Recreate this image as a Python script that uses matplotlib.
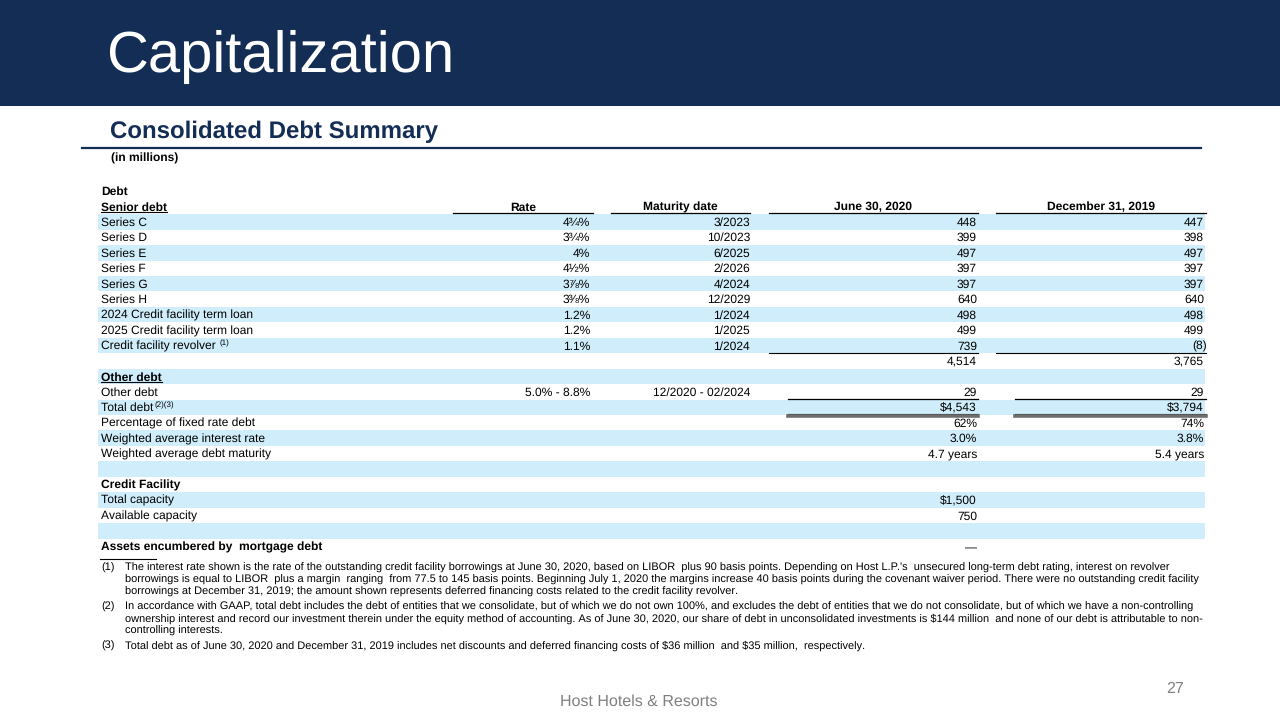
import matplotlib.pyplot as plt
from matplotlib.patches import Rectangle

# --- data ---
senior_labels = ["Series C", "Series D", "Series E", "Series F", "Series G", "Series H",
                 "2024 Credit facility term loan", "2025 Credit facility term loan",
                 "Credit facility revolver"]
senior_rates = ["4¾%", "3¾%", "4%", "4½%", "3⅞%", "3⅜%", "1.2%", "1.2%", "1.1%"]
senior_maturity = ["3/2023", "10/2023", "6/2025", "2/2026", "4/2024", "12/2029",
                   "1/2024", "1/2025", "1/2024"]
senior_jun2020 = [448, 399, 497, 397, 397, 640, 498, 499, 739]
senior_dec2019 = [447, 398, 497, 397, 397, 640, 498, 499, -8]

other_rate = "5.0% - 8.8%"
other_maturity = "12/2020 - 02/2024"
other_jun2020 = 29
other_dec2019 = 29

fixed_pct = ["62%", "74%"]
wa_rate = ["3.0%", "3.8%"]
wa_maturity = ["4.7 years", "5.4 years"]
credit_total = 1500
credit_available = 750

col_headers = ["Rate", "Maturity date", "June 30, 2020", "December 31, 2019"]

footnotes = [
    ("(1)", ["The interest rate shown is the rate of the outstanding credit facility borrowings at June 30, 2020, based on LIBOR  plus 90 basis points. Depending on Host L.P.'s  unsecured long-term debt rating, interest on revolver",
             "borrowings is equal to LIBOR  plus a margin  ranging  from 77.5 to 145 basis points. Beginning July 1, 2020 the margins increase 40 basis points during the covenant waiver period. There were no outstanding credit facility",
             "borrowings at December 31, 2019; the amount shown represents deferred financing costs related to the credit facility revolver."]),
    ("(2)", ["In accordance with GAAP, total debt includes the debt of entities that we consolidate, but of which we do not own 100%, and excludes the debt of entities that we do not consolidate, but of which we have a non-controlling",
             "ownership interest and record our investment therein under the equity method of accounting. As of June 30, 2020, our share of debt in unconsolidated investments is $144 million  and none of our debt is attributable to non-",
             "controlling interests."]),
    ("(3)", ["Total debt as of June 30, 2020 and December 31, 2019 includes net discounts and deferred financing costs of $36 million  and $35 million,  respectively."]),
]

# --- style ---
FONT = ["Liberation Sans", "DejaVu Sans"]
plt.rcParams['font.family'] = FONT
plt.rcParams['text.hinting'] = 'no_hinting'
plt.rcParams['text.hinting_factor'] = 1
NAVY = "#132D54"
SHADE = "#CFEDFA"
FS = 8.6
FN = 7.72


def fmt(v, dollar=False):
    s = f"{abs(v):,}"
    if dollar:
        s = "$" + s
    return f"({s})" if v < 0 else s


fig = plt.figure(figsize=(12.8, 7.2), dpi=100)
ax = fig.add_axes([0, 0, 1, 1])
ax.set_xlim(0, 1280)
ax.set_ylim(720, 0)
ax.axis('off')
renderer = fig.canvas.get_renderer()


def put(x, y, s, **kw):
    kw.setdefault('fontsize', FS)
    kw.setdefault('va', 'baseline')
    kw.setdefault('color', 'black')
    return ax.text(x, y, s, parse_math=False, **kw)


def right_edge(t):
    bb = t.get_window_extent(renderer).transformed(ax.transData.inverted())
    return bb.x1, bb.x0


# header band
ax.add_patch(Rectangle((0, 0), 1280, 106, color=NAVY, lw=0))
put(106, 72, "Capitalization", fontsize=42, color='white')

put(110, 138, "Consolidated Debt Summary", fontsize=17, fontweight='bold', color=NAVY)
ax.plot([82, 1201], [147.5, 147.5], color=NAVY, lw=1.6)
put(111, 162, "(in millions)", fontsize=8.3, fontweight='bold')

# table geometry
y0, pitch = 191, 15.45
x_lab, rate_r, mat_r, jun_r, dec_r = 101, 590, 750, 977, 1204
spans = [(453, 593), (611, 750), (769, 978), (996, 1206)]
sum_spans = [(788, 978), (1015, 1206)]


def ry(i):
    return y0 + i * pitch


def base(i):
    return ry(i) + 4


# row shading
for i in range(2, 24, 2):
    ax.add_patch(Rectangle((98, ry(i) - pitch / 2), 1107, pitch, color=SHADE, lw=0))

put(x_lab, base(0), "Debt", fontweight='bold')
t = put(x_lab, base(1), "Senior debt", fontweight='bold')
x1, x0 = right_edge(t)
ax.plot([x0, x1], [base(1) + 2, base(1) + 2], color='black', lw=0.8)

for (a, b), h in zip(spans, col_headers):
    put((a + b) / 2, base(1), h, fontweight='bold', ha='center')
    ax.plot([a, b], [ry(1) + 7, ry(1) + 7], color='black', lw=0.9)

for k, lab in enumerate(senior_labels):
    i = 2 + k
    t = put(x_lab, base(i), lab)
    if lab == "Credit facility revolver":
        x1, _ = right_edge(t)
        put(x1 + 4, base(i) - 4, "(1)", fontsize=5.5)
    put(rate_r, base(i), senior_rates[k], ha='right')
    put(mat_r, base(i), senior_maturity[k], ha='right')
    put(jun_r, base(i), fmt(senior_jun2020[k]), ha='right')
    dv = senior_dec2019[k]
    put(dec_r + (3 if dv < 0 else 0), base(i), fmt(dv), ha='right')

for a, b in spans[2:]:
    ax.plot([a, b], [ry(10) + 7.3, ry(10) + 7.3], color='black', lw=0.8)

sub_jun = sum(senior_jun2020)
sub_dec = sum(senior_dec2019)
put(jun_r, base(11), fmt(sub_jun), ha='right')
put(dec_r, base(11), fmt(sub_dec), ha='right')

t = put(x_lab, base(12), "Other debt", fontweight='bold')
x1, x0 = right_edge(t)
ax.plot([x0, x1], [base(12) + 2, base(12) + 2], color='black', lw=0.8)

put(x_lab, base(13), "Other debt")
put(rate_r, base(13), other_rate, ha='right')
put(mat_r, base(13), other_maturity, ha='right')
put(jun_r, base(13), fmt(other_jun2020), ha='right')
put(dec_r, base(13), fmt(other_dec2019), ha='right')
for a, b in sum_spans:
    ax.plot([a, b], [ry(13) + 7.5, ry(13) + 7.5], color='black', lw=0.9)

t = put(x_lab, base(14), "Total debt")
x1, _ = right_edge(t)
put(x1 + 1, base(14) - 4, "(2)(3)", fontsize=5.5)
put(jun_r, base(14), fmt(sub_jun + other_jun2020, True), ha='right')
put(dec_r, base(14), fmt(sub_dec + other_dec2019, True), ha='right')
for a, b in sum_spans:
    ax.plot([a, b], [ry(14) + 6.3, ry(14) + 6.3], color='black', lw=0.8)
    ax.plot([a, b], [ry(14) + 8.6, ry(14) + 8.6], color='#6E6E6E', lw=2.6)

stats = [("Percentage of fixed rate debt", fixed_pct),
         ("Weighted average interest rate", wa_rate),
         ("Weighted average debt maturity", wa_maturity)]
for k, (lab, vals) in enumerate(stats):
    i = 15 + k
    put(x_lab, base(i), lab)
    put(jun_r, base(i), vals[0], ha='right')
    put(dec_r, base(i), vals[1], ha='right')

put(x_lab, base(19), "Credit Facility", fontweight='bold')
put(x_lab, base(20), "Total capacity")
put(jun_r, base(20), fmt(credit_total, True), ha='right')
put(x_lab, base(21), "Available capacity")
put(jun_r, base(21), fmt(credit_available), ha='right')

put(x_lab, base(23), "Assets encumbered by  mortgage debt", fontweight='bold')
put(jun_r, base(23), "—", ha='right')

# footnotes
ax.plot([100, 156], [559, 559], color='black', lw=0.8)
fy = 570.5
for num, lines in footnotes:
    put(101, fy, num, fontsize=FN)
    for ln in lines:
        put(125, fy, ln, fontsize=FN)
        fy += 12
    fy += 3

# footer
put(639, 706, "Host Hotels & Resorts", fontsize=11.2, color='#808080', ha='center')
put(1175, 693, "27", fontsize=11.5, color='#808080', ha='center')

fig.savefig("out.png", dpi=100)
